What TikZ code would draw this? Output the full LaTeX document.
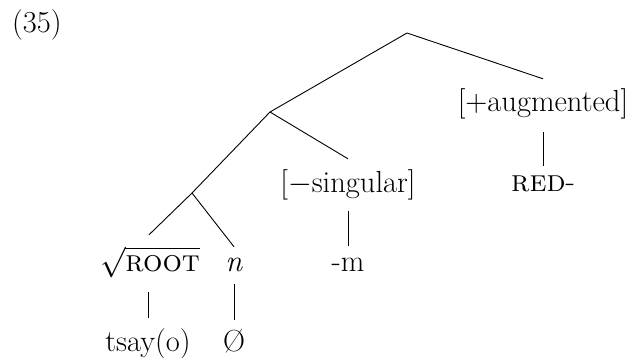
\documentclass[tikz,border=0pt]{standalone}
\usepackage{fix-cm}
\usepackage{exscale}
\usepackage{fontspec}
\begin{document}
\begin{tikzpicture}[x=1pt,y=-1pt,
  lbl/.style={anchor=base,inner sep=0pt,font=\fontsize{30.5}{36}\selectfont},
  edge/.style={line width=0.9pt}]
\useasboundingbox (0,0) rectangle (635,358);
\node[lbl,anchor=base west] (ex) at (12,33) {(35)};
\coordinate (A) at (407,33);
\coordinate (B) at (270,112);
\coordinate (C) at (192,193);
\node[lbl,text height=33pt,text depth=20pt] (aug) at (543,112) {[+augmented]};
\node[lbl,text height=26pt] (red) at (543,192) {\textsc{red}-};
\node[lbl,text height=34pt,text depth=18pt] (sing) at (348,193) {[$-$singular]};
\node[lbl,text height=26pt] (m) at (348,272) {-m};
\node[lbl,text height=37pt,text depth=20pt] (root) at (150,272) {$\sqrt{\mbox{\textsc{root}}}$};
\node[lbl,text height=25pt,text depth=12pt] (n) at (234,272) {\textit{n}};
\node[lbl,text height=34pt] (tsay) at (148,352) {tsay(o)};
\node[lbl,text height=32pt] (zero) at (234,352) {Ø};
\draw[edge] (aug.north) -- (A) -- (B) -- (C) -- ([xshift=-1pt]root.north);
\draw[edge] (B) -- (sing.north);
\draw[edge] (C) -- (n.north);
\draw[edge] (aug.south) -- (red.north);
\draw[edge] (sing.south) -- (m.north);
\draw[edge] ([xshift=-2pt]root.south) -- (tsay.north);
\draw[edge] (n.south) -- (zero.north);
\end{tikzpicture}
\end{document}
